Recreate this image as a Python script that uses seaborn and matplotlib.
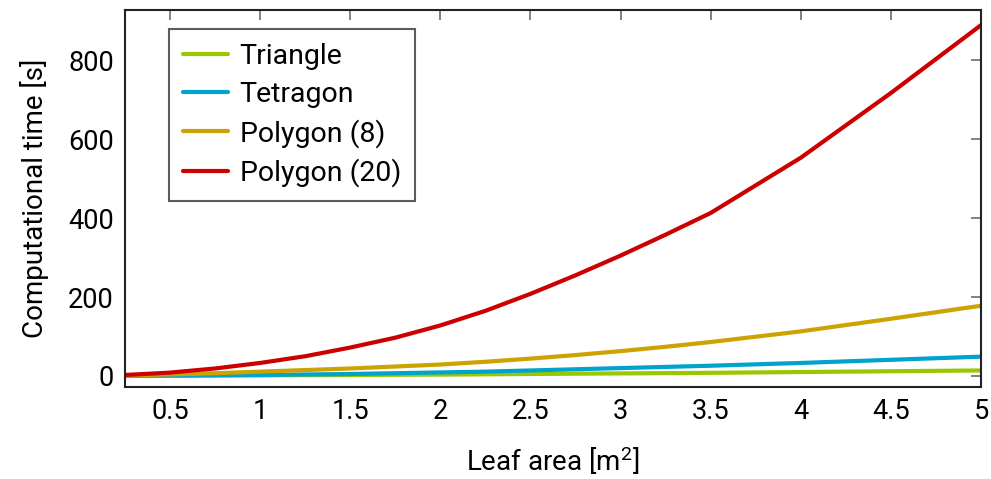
import numpy as np
import pandas as pd
import matplotlib
matplotlib.use("Agg")
import matplotlib.pyplot as plt
import seaborn as sns

leaf_area = [0.25, 0.5, 0.75, 1.0, 1.25, 1.5, 1.75, 2.0, 2.25, 2.5, 2.75, 3.0, 3.25, 3.5, 4.0, 4.5, 5.0]
triangle = [0.2, 0.6, 1.0, 1.5, 2.0, 2.5, 3.0, 3.5, 4.2, 5.0, 5.8, 6.5, 7.2, 8.0, 10.0, 12.0, 14.0]
tetragon = [0.5, 1.0, 1.8, 2.5, 3.8, 5.0, 7.0, 9.0, 11.0, 14.0, 17.0, 20.0, 23.0, 26.0, 33.0, 41.0, 49.0]
polygon8 = [1.0, 4.0, 7.0, 11.0, 15.0, 19.0, 24.0, 29.0, 36.0, 44.0, 53.0, 63.0, 74.0, 86.0, 113.0, 145.0, 178.0]
polygon20 = [2.5, 8.5, 19.0, 33.0, 50.0, 72.0, 97.0, 128.0, 165.0, 208.0, 255.0, 305.0, 358.0, 413.0, 553.0, 717.0, 889.0]

series_names = ["Triangle", "Tetragon", "Polygon (8)", "Polygon (20)"]
series_values = [triangle, tetragon, polygon8, polygon20]
colors = ["#99c800", "#00a3cc", "#cca300", "#cc0000"]

x_ticks = [0.5, 1, 1.5, 2, 2.5, 3, 3.5, 4, 4.5, 5]
x_ticklabels = ["0.5", "1", "1.5", "2", "2.5", "3", "3.5", "4", "4.5", "5"]
y_ticks = [0, 200, 400, 600, 800]

rows = []
for name, vals in zip(series_names, series_values):
    for xv, yv in zip(leaf_area, vals):
        rows.append({"Leaf area": xv, "time": yv, "Shape": name})
df = pd.DataFrame(rows)

sns.set_theme(style="white")
plt.rcParams["font.family"] = ["Roboto", "DejaVu Sans"]
plt.rcParams["mathtext.default"] = "regular"
plt.rcParams["text.color"] = "black"
plt.rcParams["axes.labelcolor"] = "black"

fig = plt.figure(figsize=(9.91, 4.79), dpi=100)
ax = fig.add_axes([0.126, 0.192, 0.864, 0.787])

sns.lineplot(data=df, x="Leaf area", y="time", hue="Shape",
             hue_order=series_names, palette=dict(zip(series_names, colors)),
             linewidth=3.0, ax=ax, estimator=None, sort=False)

ax.set_xlim(0.25, 5)
ax.set_ylim(-28, 927)
ax.set_xticks(x_ticks)
ax.set_xticklabels(x_ticklabels)
ax.set_yticks(y_ticks)
ax.tick_params(direction="in", top=True, right=True, length=7, width=1.3,
               color="#777777", labelsize=19.5, labelcolor="black", pad=8)
for s in ax.spines.values():
    s.set_color("#222222")
    s.set_linewidth(1.5)

ax.set_xlabel("Leaf area [m$^{2}$]", fontsize=20, labelpad=14, color="black")
ax.set_ylabel("Computational time [s]", fontsize=20, labelpad=14, color="black")

leg = ax.legend(loc="upper left", bbox_to_anchor=(0.051, 0.95), fontsize=20.5,
                frameon=True, fancybox=False, handlelength=1.6,
                labelspacing=0.38, borderpad=0.5, handletextpad=0.4,
                borderaxespad=0)
leg.get_frame().set_edgecolor("#333333")
leg.get_frame().set_linewidth(1.5)
for line in leg.get_lines():
    line.set_linewidth(3.0)

fig.savefig("out.png", dpi=100)
